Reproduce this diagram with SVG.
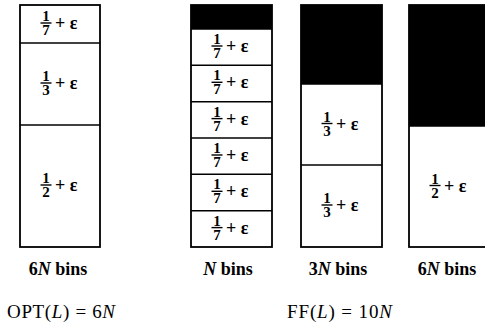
<svg xmlns="http://www.w3.org/2000/svg" width="485" height="326" viewBox="0 0 485 326">
  <style>
    .bin { fill: #fff; stroke: #000; stroke-width: 1.8; }
    .div { stroke: #000; stroke-width: 1.5; }
    .fill { fill: #000; }
    .num { font-family: "Liberation Serif", "Times New Roman", serif; font-weight: bold; font-size: 15px; text-anchor: middle; fill: #000; }
    .bar { stroke: #000; stroke-width: 1.4; }
    .pe { font-family: "Liberation Serif", "Times New Roman", serif; font-weight: bold; font-size: 18px; fill: #000; }
    .lbl { font-family: "Liberation Serif", "Times New Roman", serif; font-weight: bold; font-size: 18px; fill: #000; text-anchor: middle; }
    .eq { font-family: "Liberation Serif", "Times New Roman", serif; font-size: 19px; fill: #000; }
    .it { font-style: italic; }
  </style>
  <defs>
    <!-- size item "1/d + ε", origin = fraction bar centre -->
    <g id="f7"><text class="num" x="0" y="-2">1</text><line class="bar" x1="-5.5" y1="0" x2="5.5" y2="0"/><text class="num" x="0" y="12">7</text><text class="pe" x="9" y="6">+ ε</text></g>
    <g id="f3"><text class="num" x="0" y="-2">1</text><line class="bar" x1="-5.5" y1="0" x2="5.5" y2="0"/><text class="num" x="0" y="12">3</text><text class="pe" x="9" y="6">+ ε</text></g>
    <g id="f2"><text class="num" x="0" y="-2">1</text><line class="bar" x1="-5.5" y1="0" x2="5.5" y2="0"/><text class="num" x="0" y="12">2</text><text class="pe" x="9" y="6">+ ε</text></g>
  </defs>

  <!-- optimal packing: 6N bins -->
  <g id="opt-bin">
    <rect class="bin" x="20" y="5" width="80" height="242"/>
    <line class="div" x1="20" y1="43" x2="100" y2="43"/>
    <line class="div" x1="20" y1="125" x2="100" y2="125"/>
    <use href="#f7" x="46" y="23"/>
    <use href="#f3" x="46" y="83"/>
    <use href="#f2" x="46" y="185"/>
    <text class="lbl" x="58" y="275">6<tspan class="it">N</tspan> bins</text>
  </g>

  <!-- first fit: N bins of six 1/7 items -->
  <g id="ff-bin-7">
    <rect class="bin" x="191" y="5" width="81" height="242"/>
    <rect class="fill" x="191" y="5" width="81" height="24"/>
    <line class="div" x1="191" y1="29" x2="272" y2="29"/>
    <line class="div" x1="191" y1="65.3" x2="272" y2="65.3"/>
    <line class="div" x1="191" y1="101.7" x2="272" y2="101.7"/>
    <line class="div" x1="191" y1="138" x2="272" y2="138"/>
    <line class="div" x1="191" y1="174.3" x2="272" y2="174.3"/>
    <line class="div" x1="191" y1="210.7" x2="272" y2="210.7"/>
    <use href="#f7" x="217" y="46"/>
    <use href="#f7" x="217" y="82.3"/>
    <use href="#f7" x="217" y="118.6"/>
    <use href="#f7" x="217" y="155"/>
    <use href="#f7" x="217" y="191.3"/>
    <use href="#f7" x="217" y="227.6"/>
    <text class="lbl" x="228" y="275"><tspan class="it">N</tspan> bins</text>
  </g>

  <!-- first fit: 3N bins of two 1/3 items -->
  <g id="ff-bin-3">
    <rect class="bin" x="301" y="5" width="81" height="242"/>
    <rect class="fill" x="301" y="5" width="81" height="79"/>
    <line class="div" x1="301" y1="84" x2="382" y2="84"/>
    <line class="div" x1="301" y1="165" x2="382" y2="165"/>
    <use href="#f3" x="327" y="123.5"/>
    <use href="#f3" x="327" y="205"/>
    <text class="lbl" x="338" y="275">3<tspan class="it">N</tspan> bins</text>
  </g>

  <!-- first fit: 6N bins of one 1/2 item -->
  <g id="ff-bin-2">
    <rect class="bin" x="409" y="5" width="85" height="242"/>
    <rect class="fill" x="409" y="5" width="85" height="121"/>
    <line class="div" x1="409" y1="126" x2="494" y2="126"/>
    <use href="#f2" x="435" y="185.5"/>
    <text class="lbl" x="447" y="275">6<tspan class="it">N</tspan> bins</text>
  </g>

  <text class="eq" x="7" y="318" textLength="108" lengthAdjust="spacing">OPT(<tspan class="it">L</tspan>) = 6<tspan class="it">N</tspan></text>
  <text class="eq" x="287" y="318" textLength="105" lengthAdjust="spacing">FF(<tspan class="it">L</tspan>) = 10<tspan class="it">N</tspan></text>
</svg>
